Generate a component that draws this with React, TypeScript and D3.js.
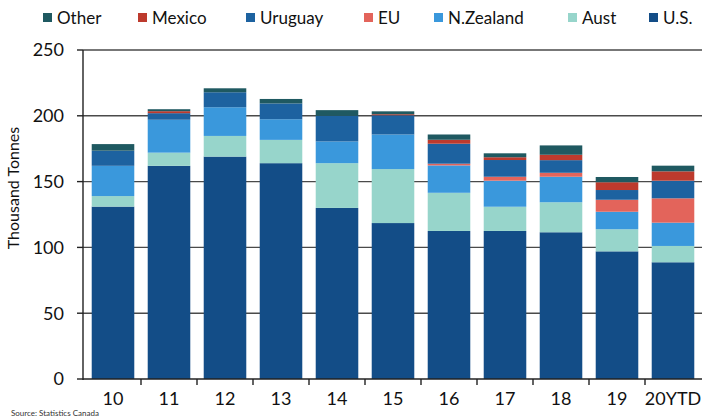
import React, { useEffect, useRef } from "react";
import * as d3 from "d3";

// categories (years) and series, values in thousand tonnes
const years = ["10", "11", "12", "13", "14", "15", "16", "17", "18", "19", "20YTD"];
const usVals = [131, 162, 169, 164, 130, 118.5, 112.5, 112.5, 111.5, 97, 88.7];
const austVals = [8, 10, 15.7, 17.7, 34, 41, 29, 18.4, 22.8, 16.8, 12.4];
const nzVals = [23, 25, 21.8, 15.7, 16.5, 26.3, 20.8, 19.8, 19.4, 13.3, 17.7];
const euVals = [0, 0, 0, 0, 0, 0, 1.3, 3, 3, 9.1, 18.5];
const uruguayVals = [11.5, 5, 11.4, 12, 19.5, 14.6, 15.2, 12.7, 9.6, 7.4, 13.4];
const mexicoVals = [0, 1.5, 0, 0, 0, 0.8, 3, 2.1, 4.1, 5.9, 7.1];
const otherVals = [5, 1.5, 3, 3.4, 4.3, 2.2, 4, 3, 7.1, 4, 4.3];

const yTicks = [0, 50, 100, 150, 200, 250];

// stacking order bottom -> top
const seriesKeys = ["U.S.", "Aust", "N.Zealand", "EU", "Uruguay", "Mexico", "Other"];
const legendOrder = ["Other", "Mexico", "Uruguay", "EU", "N.Zealand", "Aust", "U.S."];
const legendX = [43, 138, 246, 364, 434, 568, 649];

const colors = {
  "U.S.": "#134d87",
  Aust: "#97d5cb",
  "N.Zealand": "#3a98dc",
  EU: "#e3645b",
  Uruguay: "#1d62a0",
  Mexico: "#bd3a2d",
  Other: "#1f5961",
};

const W = 702;
const H = 418;
const FONT = "Lato, 'Open Sans', sans-serif";

const App = () => {
  const svgRef = useRef(null);

  useEffect(() => {
    const svg = d3.select(svgRef.current);
    svg.selectAll("*").remove();

    const rows = years.map((yr, i) => ({
      year: yr,
      "U.S.": usVals[i],
      Aust: austVals[i],
      "N.Zealand": nzVals[i],
      EU: euVals[i],
      Uruguay: uruguayVals[i],
      Mexico: mexicoVals[i],
      Other: otherVals[i],
    }));

    const x = d3.scaleBand().domain(years).range([85, 701]).paddingInner(0.24).paddingOuter(0.12);
    const y = d3.scaleLinear().domain([0, 250]).range([379, 50]);
    const left = 83;
    const right = 702;

    // gridlines
    svg
      .append("g")
      .selectAll("line")
      .data(yTicks.filter((t) => t > 0))
      .join("line")
      .attr("x1", left)
      .attr("x2", right)
      .attr("y1", (d) => y(d))
      .attr("y2", (d) => y(d))
      .attr("stroke", "#4a4a4a")
      .attr("stroke-width", 1.4);

    // stacked bars
    const stacked = d3.stack().keys(seriesKeys)(rows);
    svg
      .append("g")
      .selectAll("g")
      .data(stacked)
      .join("g")
      .attr("fill", (s) => colors[s.key])
      .selectAll("rect")
      .data((s) => s)
      .join("rect")
      .attr("x", (d) => x(d.data.year))
      .attr("width", x.bandwidth())
      .attr("y", (d) => y(d[1]))
      .attr("height", (d) => Math.max(0, y(d[0]) - y(d[1])));

    // y axis
    svg
      .append("line")
      .attr("x1", left)
      .attr("x2", left)
      .attr("y1", 50)
      .attr("y2", 380)
      .attr("stroke", "#222")
      .attr("stroke-width", 1.4);

    const yAxis = svg.append("g");
    yAxis
      .selectAll("line")
      .data(yTicks)
      .join("line")
      .attr("x1", left - 6)
      .attr("x2", left)
      .attr("y1", (d) => y(d))
      .attr("y2", (d) => y(d))
      .attr("stroke", "#222")
      .attr("stroke-width", 1.4);
    yAxis
      .selectAll("text")
      .data(yTicks)
      .join("text")
      .attr("x", 64)
      .attr("y", (d) => y(d))
      .attr("dy", "0.35em")
      .attr("text-anchor", "end")
      .attr("font-family", FONT)
      .attr("font-size", 18)
      .attr("fill", "#111")
      .text((d) => d);

    svg
      .append("text")
      .attr("transform", "translate(19,188) rotate(-90)")
      .attr("text-anchor", "middle")
      .attr("font-family", FONT)
      .attr("font-size", 16)
      .attr("fill", "#111")
      .text("Thousand Tonnes");

    // x axis
    svg
      .append("line")
      .attr("x1", left)
      .attr("x2", right)
      .attr("y1", y(0))
      .attr("y2", y(0))
      .attr("stroke", "#222")
      .attr("stroke-width", 1.4);

    const step = x.step();
    const boundaries = years.slice(1).map((yr) => x(yr) - (step * x.paddingInner()) / 2);
    svg
      .append("g")
      .selectAll("line")
      .data(boundaries)
      .join("line")
      .attr("x1", (d) => d)
      .attr("x2", (d) => d)
      .attr("y1", y(0))
      .attr("y2", y(0) + 6)
      .attr("stroke", "#222")
      .attr("stroke-width", 1.4);

    svg
      .append("g")
      .selectAll("text")
      .data(years)
      .join("text")
      .attr("x", (d) => x(d) + x.bandwidth() / 2)
      .attr("y", 405)
      .attr("text-anchor", "middle")
      .attr("font-family", FONT)
      .attr("font-size", 18)
      .attr("fill", "#111")
      .text((d) => d);

    // source note at the bottom edge
    svg
      .append("text")
      .attr("x", 11)
      .attr("y", 416)
      .attr("font-family", FONT)
      .attr("font-size", 8)
      .attr("fill", "#333")
      .text("Source: Statistics Canada");

    // legend
    const legend = svg
      .append("g")
      .selectAll("g")
      .data(legendOrder)
      .join("g")
      .attr("transform", (d, i) => `translate(${legendX[i]},0)`);
    legend
      .append("rect")
      .attr("x", 0)
      .attr("y", 13)
      .attr("width", 9)
      .attr("height", 9)
      .attr("fill", (d) => colors[d]);
    legend
      .append("text")
      .attr("x", 14)
      .attr("y", 24)
      .attr("font-family", FONT)
      .attr("font-size", 17)
      .attr("fill", "#111")
      .text((d) => d);
  }, []);

  return (
    <svg
      ref={svgRef}
      width={W}
      height={H}
      style={{ position: "absolute", left: 0, top: 0, background: "#fff" }}
    ></svg>
  );
};

export default App;
